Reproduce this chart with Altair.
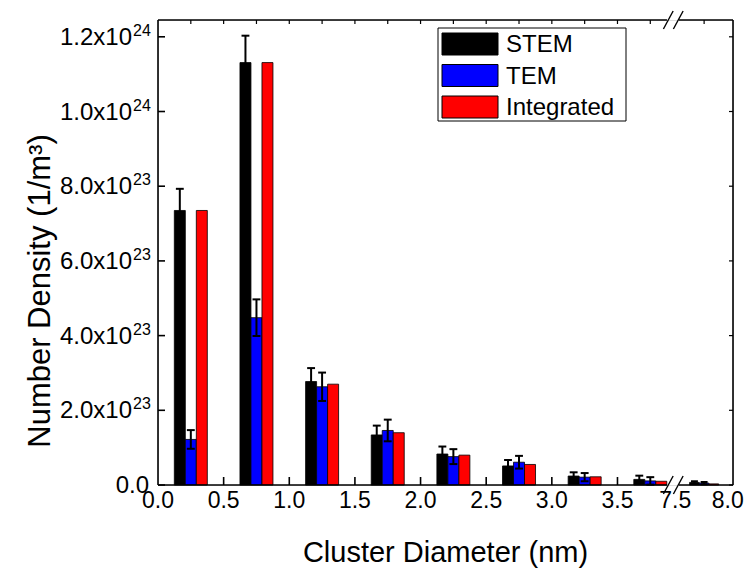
import altair as alt
import pandas as pd

# ---------------- data ----------------
diameter = [0.25, 0.75, 1.25, 1.75, 2.25, 2.75, 3.25, 3.75, 7.75]
stem = [7.35e23, 11.31e23, 2.77e23, 1.34e23, 0.83e23, 0.51e23, 0.24e23, 0.15e23, 0.07e23]
stem_err = [0.58e23, 0.72e23, 0.36e23, 0.25e23, 0.20e23, 0.16e23, 0.10e23, 0.10e23, 0.03e23]
tem = [1.22e23, 4.48e23, 2.63e23, 1.46e23, 0.76e23, 0.61e23, 0.21e23, 0.11e23, 0.05e23]
tem_err = [0.25e23, 0.49e23, 0.38e23, 0.29e23, 0.20e23, 0.17e23, 0.11e23, 0.10e23, 0.03e23]
integrated = [7.35e23, 11.31e23, 2.70e23, 1.40e23, 0.80e23, 0.55e23, 0.22e23, 0.10e23, 0.03e23]

series = ["STEM", "TEM", "Integrated"]
colors = ["#000000", "#0000ff", "#ff0000"]

x_tick_values = [0.0, 0.5, 1.0, 1.5, 2.0, 2.5, 3.0, 3.5, 7.5, 8.0]
x_minor_ticks = [0.25, 0.5, 0.75, 1.0, 1.25, 1.5, 1.75, 2.0, 2.25, 2.5,
                 2.75, 3.0, 3.25, 3.5, 3.75, 7.75]
y_tick_values = [0.0, 2e23, 4e23, 6e23, 8e23, 1.0e24, 1.2e24]
y_tick_mantissa = ["0.0", "2.0x10", "4.0x10", "6.0x10", "8.0x10", "1.0x10", "1.2x10"]
y_tick_exponent = ["", "23", "23", "23", "23", "24", "24"]

x_title = "Cluster Diameter (nm)"
y_title = "Number Density (1/m³)"

# ---------------- layout / style ----------------
FONT = "Liberation Sans"
W, H = 575, 465
BREAK_POS = 3.94      # axis position where 7.5 sits
SEG2 = 0.88           # compression of the right segment
YMAX = 1.245e24
BW = 0.0838           # bar width (nm)
CAP = 0.06            # error cap width (nm)
GAP_L, GAP_R = 3.877, 3.968


def pos(v):
    return v if v < 5 else BREAK_POS + (v - 7.5) * SEG2


def pos_expr(e):
    return f"(({e}) < 5 ? ({e}) : {BREAK_POS} + (({e}) - 7.5) * {SEG2})"


XMAX = pos(8.0)
xs = alt.Scale(domain=[0, XMAX], nice=False, zero=False)
ys = alt.Scale(domain=[0, YMAX], nice=False)
color_scale = alt.Scale(domain=series, range=colors)

rows = []
for name, k, vals, errs in [("STEM", 0, stem, stem_err),
                            ("TEM", 1, tem, tem_err),
                            ("Integrated", 2, integrated, [0.0] * len(integrated))]:
    for d, v, e in zip(diameter, vals, errs):
        rows.append({"d": d, "series": name, "k": k, "value": v, "err": e})
df = pd.DataFrame(rows)

base = alt.Chart(df).transform_calculate(
    xl=f"datum.d + (datum.k - 1.5) * {BW}",
).transform_calculate(
    xr=f"datum.xl + {BW}",
    xc=f"datum.d + (datum.k - 1) * {BW}",
).transform_calculate(
    pl=pos_expr("datum.xl"),
    pr=pos_expr("datum.xr"),
    pc=pos_expr("datum.xc"),
    pcl=pos_expr(f"datum.xc - {CAP / 2}"),
    pcr=pos_expr(f"datum.xc + {CAP / 2}"),
    lo="datum.value - datum.err",
    hi="datum.value + datum.err",
)

bars = base.mark_bar(stroke="black", strokeWidth=0.8).encode(
    x=alt.X("pl:Q", scale=xs, axis=None),
    x2="pr:Q",
    y=alt.Y("value:Q", scale=ys, axis=None),
    y2="zero:Q",
    color=alt.Color("series:N", scale=color_scale, legend=None),
).transform_calculate(zero="0")

err_base = base.transform_filter("datum.series != 'Integrated'")
err_line = err_base.mark_rule(color="black", strokeWidth=2).encode(
    x=alt.X("pc:Q", scale=xs, axis=None),
    y=alt.Y("lo:Q", scale=ys, axis=None),
    y2="hi:Q",
)
cap_hi = err_base.mark_rule(color="black", strokeWidth=2).encode(
    x=alt.X("pcl:Q", scale=xs, axis=None), x2="pcr:Q",
    y=alt.Y("hi:Q", scale=ys, axis=None),
)
cap_lo = err_base.mark_rule(color="black", strokeWidth=2).encode(
    x=alt.X("pcl:Q", scale=xs, axis=None), x2="pcr:Q",
    y=alt.Y("lo:Q", scale=ys, axis=None),
)

# ---------------- frame with axis break ----------------
LW = 1.6
seg_df = pd.DataFrame({
    "a": [0, GAP_R, 0, GAP_R],
    "b": [GAP_L, XMAX, GAP_L, XMAX],
    "yp": [0, 0, H, H],
})
hframe = alt.Chart(seg_df).mark_rule(color="black", strokeWidth=LW).encode(
    x=alt.X("a:Q", scale=xs, axis=None), x2="b:Q",
    y=alt.Y("yp:Q", scale=None))
vframe_l = alt.Chart().mark_rule(color="black", strokeWidth=LW).encode(
    x=alt.value(0), y=alt.value(0), y2=alt.value(H))
vframe_r = alt.Chart().mark_rule(color="black", strokeWidth=LW).encode(
    x=alt.value(W), y=alt.value(0), y2=alt.value(H))
slash_df = pd.DataFrame({
    "a": [3.850, 3.926, 3.850, 3.926],
    "b": [3.924, 4.000, 3.924, 4.000],
    "y1": [9, 9, H + 9, H + 9],
    "y2": [-9, -9, H - 9, H - 9],
})
slashes = alt.Chart(slash_df).mark_rule(color="black", strokeWidth=1.4).encode(
    x=alt.X("a:Q", scale=xs, axis=None), x2="b:Q",
    y=alt.Y("y1:Q", scale=None), y2="y2:Q")

# ---------------- ticks ----------------
ytick_df = pd.DataFrame({"v": y_tick_values, "m": y_tick_mantissa, "e": y_tick_exponent})
left_ticks = alt.Chart(ytick_df).mark_rule(color="black", strokeWidth=LW).encode(
    y=alt.Y("v:Q", scale=ys, axis=None), x=alt.value(0), x2=alt.value(7))
right_ticks = alt.Chart(ytick_df).mark_rule(color="black", strokeWidth=1.2).encode(
    y=alt.Y("v:Q", scale=ys, axis=None), x=alt.value(W - 4), x2=alt.value(W))

xtick_df = pd.DataFrame({"x": x_tick_values})
bottom_ticks = alt.Chart(xtick_df).transform_filter(
    "datum.x > 0 && datum.x < 7"
).transform_calculate(p=pos_expr("datum.x")).mark_rule(color="black", strokeWidth=LW).encode(
    x=alt.X("p:Q", scale=xs, axis=None), y=alt.value(H - 8), y2=alt.value(H))
top_df = pd.DataFrame({"x": x_minor_ticks})
top_ticks = alt.Chart(top_df).transform_calculate(p=pos_expr("datum.x")).mark_rule(
    color="black", strokeWidth=1.2).encode(
    x=alt.X("p:Q", scale=xs, axis=None), y=alt.value(0), y2=alt.value(4))

# ---------------- tick labels ----------------
xlab = alt.Chart(xtick_df).transform_calculate(
    p=pos_expr("datum.x"), lab="format(datum.x, '.1f')"
).transform_calculate(
    # keep the last label inside the page
    lp="datum.x == 8 ? datum.p - 0.04 : datum.p"
).mark_text(font=FONT, fontSize=23, align="center", baseline="alphabetic",
            color="black").encode(
    x=alt.X("lp:Q", scale=xs, axis=None), y=alt.value(H + 23), text="lab:N")

ylab_base = alt.Chart(ytick_df).transform_calculate(
    mx="datum.e == '' ? -9 : -26", sx="-25")
ylab_main = ylab_base.mark_text(
    font=FONT, fontSize=24, align="right", baseline="middle", dy=1, color="black"
).encode(y=alt.Y("v:Q", scale=ys, axis=None), x=alt.X("mx:Q", scale=None), text="m:N")
ylab_sup = ylab_base.mark_text(
    font=FONT, fontSize=16, align="left", baseline="middle", dy=-6, color="black"
).encode(y=alt.Y("v:Q", scale=ys, axis=None), x=alt.X("sx:Q", scale=None), text="e:N")

# ---------------- axis titles ----------------
xtitle = alt.Chart(pd.DataFrame({"t": [x_title]})).mark_text(
    font=FONT, fontSize=29, align="center", baseline="alphabetic", color="black"
).encode(x=alt.value(W / 2), y=alt.value(H + 77), text="t:N")
ytitle = alt.Chart(pd.DataFrame({"t": [y_title]})).mark_text(
    font=FONT, fontSize=31, align="center", baseline="alphabetic", angle=270,
    color="black"
).encode(x=alt.value(-108), y=alt.value(271), text="t:N")

# ---------------- legend ----------------
leg_df = pd.DataFrame({"series": series, "order": list(range(len(series)))})
leg_box = alt.Chart().mark_rect(fill="white", stroke="black", strokeWidth=1).encode(
    x=alt.value(280), x2=alt.value(468), y=alt.value(8), y2=alt.value(101))
leg_base = alt.Chart(leg_df).transform_calculate(
    y0="13 + datum.order * 31.5").transform_calculate(
    y1="datum.y0 + 22", yc="datum.y0 + 11")
leg_sw = leg_base.mark_rect(stroke="black", strokeWidth=1).encode(
    x=alt.value(284), x2=alt.value(340),
    y=alt.Y("y0:Q", scale=None), y2="y1:Q",
    color=alt.Color("series:N", scale=color_scale, legend=None))
leg_txt = leg_base.mark_text(font=FONT, fontSize=24, align="left", baseline="middle",
                             dy=1, color="black").encode(
    x=alt.value(348), y=alt.Y("yc:Q", scale=None), text="series:N")

chart = alt.layer(
    bars, err_line, cap_hi, cap_lo,
    hframe, vframe_l, vframe_r, slashes,
    left_ticks, right_ticks, bottom_ticks, top_ticks,
    xlab, ylab_main, ylab_sup, xtitle, ytitle, leg_box, leg_sw, leg_txt,
).properties(
    width=W, height=H,
    autosize=alt.AutoSizeParams(type="none"),
    padding={"left": 150, "top": 12, "right": 11, "bottom": 84},
).configure_view(stroke=None).configure(font=FONT, background="white")

chart.save("out.html", embed_options={"renderer": "svg", "actions": False})
